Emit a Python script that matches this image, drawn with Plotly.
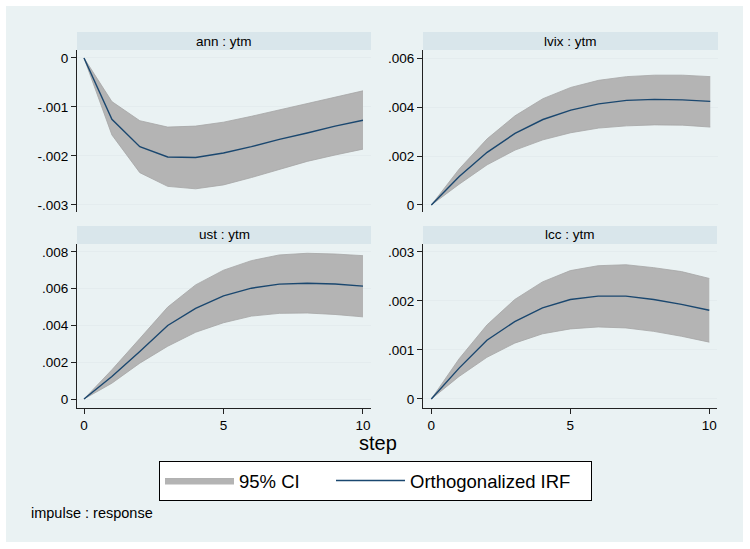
import plotly.graph_objects as go

# ---------------- data ----------------
steps = [0, 1, 2, 3, 4, 5, 6, 7, 8, 9, 10]

ann_irf = [0, -0.00125, -0.00181, -0.00202, -0.00203, -0.00194, -0.00181, -0.00166, -0.00153, -0.00139, -0.00127]
ann_lo = [0, -0.00157, -0.00234, -0.00262, -0.00267, -0.00259, -0.00244, -0.00227, -0.00211, -0.00198, -0.00186]
ann_hi = [0, -0.00089, -0.00128, -0.00141, -0.00139, -0.00131, -0.00119, -0.00106, -0.00093, -0.00080, -0.00067]

lvix_irf = [0, 0.00116, 0.00215, 0.00292, 0.00349, 0.00387, 0.00413, 0.00427, 0.00431, 0.00429, 0.00423]
lvix_lo = [0, 0.00085, 0.00164, 0.00224, 0.00266, 0.00295, 0.00314, 0.00323, 0.00327, 0.00326, 0.00318]
lvix_hi = [0, 0.00147, 0.00270, 0.00364, 0.00434, 0.00480, 0.00509, 0.00524, 0.00530, 0.00530, 0.00524]

ust_irf = [0, 0.00122, 0.00259, 0.00400, 0.00493, 0.00561, 0.00603, 0.00625, 0.00630, 0.00626, 0.00614]
ust_lo = [0, 0.00086, 0.00195, 0.00287, 0.00363, 0.00415, 0.00451, 0.00466, 0.00468, 0.00460, 0.00447]
ust_hi = [0, 0.00159, 0.00329, 0.00500, 0.00621, 0.00701, 0.00753, 0.00784, 0.00793, 0.00789, 0.00780]

lcc_irf = [0, 0.00063, 0.00120, 0.00158, 0.00186, 0.00203, 0.00210, 0.00210, 0.00203, 0.00193, 0.00181]
lcc_lo = [0, 0.00046, 0.00085, 0.00114, 0.00133, 0.00143, 0.00147, 0.00145, 0.00138, 0.00128, 0.00116]
lcc_hi = [0, 0.00082, 0.00151, 0.00203, 0.00239, 0.00262, 0.00272, 0.00274, 0.00268, 0.00260, 0.00246]

panel_titles = ["ann : ytm", "lvix : ytm", "ust : ytm", "lcc : ytm"]

ann_ticks = [0, -0.001, -0.002, -0.003]
ann_ticktext = ["0", "-.001", "-.002", "-.003"]
lvix_ticks = [0, 0.002, 0.004, 0.006]
lvix_ticktext = ["0", ".002", ".004", ".006"]
ust_ticks = [0, 0.002, 0.004, 0.006, 0.008]
ust_ticktext = ["0", ".002", ".004", ".006", ".008"]
lcc_ticks = [0, 0.001, 0.002, 0.003]
lcc_ticktext = ["0", ".001", ".002", ".003"]

x_ticks = [0, 5, 10]
x_ticktext = ["0", "5", "10"]

# ---------------- style ----------------
W, H = 750, 549
FONT = "Liberation Sans, Arial, Helvetica, sans-serif"
OUTER_BG = "#EAF2F3"
STRIP_BG = "#D9E6EB"
BAND_FILL = "#B4B4B4"
BAND_EDGE = "#A6A6A6"
IRF_COLOR = "#1A476F"
GRID = "#E4ECEE"
AXIS = "#222222"


def px_x(p):
    return p / W


def px_y(p):
    return 1 - p / H


# panel geometry in pixels: (x0, x1, y_top, y_bottom)
panels = [
    (77, 371, 50, 212),
    (423, 718, 50, 212),
    (77, 371, 244, 408),
    (423, 717, 244, 408),
]
strip_h = 18

series = [
    (ann_irf, ann_lo, ann_hi, ann_ticks, ann_ticktext, [-0.003143, 0.000163]),
    (lvix_irf, lvix_lo, lvix_hi, lvix_ticks, lvix_ticktext, [-0.000286, 0.006327]),
    (ust_irf, ust_lo, ust_hi, ust_ticks, ust_ticktext, [-0.00049, 0.008435]),
    (lcc_irf, lcc_lo, lcc_hi, lcc_ticks, lcc_ticktext, [-0.000184, 0.003163]),
]
x_ranges = [[-0.251, 10.287], [-0.2986, 10.277], [-0.251, 10.287], [-0.2986, 10.277]]

fig = go.Figure()

layout = dict(
    template="none",
    width=W,
    height=H,
    margin=dict(l=0, r=0, t=0, b=0, pad=0, autoexpand=False),
    paper_bgcolor="white",
    plot_bgcolor="white",
    font=dict(family=FONT, color="black", size=13.5),
    showlegend=True,
    hovermode="closest",
)

shapes = [
    dict(type="rect", xref="paper", yref="paper", x0=px_x(6), x1=px_x(743),
         y0=px_y(542), y1=px_y(6), fillcolor=OUTER_BG, line=dict(width=0), layer="below"),
]
annotations = []

for i, (irf, lo, hi, tv, tt, yr) in enumerate(series):
    n = i + 1
    xa = "x" if n == 1 else f"x{n}"
    ya = "y" if n == 1 else f"y{n}"
    first = (i == 0)

    fig.add_trace(go.Scatter(
        x=steps, y=hi, xaxis=xa, yaxis=ya, mode="lines",
        line=dict(color=BAND_EDGE, width=0.8), legendgroup="ci",
        showlegend=False, hoverinfo="skip"))
    fig.add_trace(go.Scatter(
        x=steps, y=lo, xaxis=xa, yaxis=ya, mode="lines", fill="tonexty",
        fillcolor=BAND_FILL, line=dict(color=BAND_EDGE, width=0.8),
        name="95% CI", legendgroup="ci", showlegend=first, legendwidth=87))
    fig.add_trace(go.Scatter(
        x=steps, y=irf, xaxis=xa, yaxis=ya, mode="lines",
        line=dict(color=IRF_COLOR, width=1.4),
        name="Orthogonalized IRF", legendgroup="irf", showlegend=first,
        legendwidth=176))

    x0, x1, yt, yb = panels[i]
    bottom = i >= 2
    xkey = "xaxis" if n == 1 else f"xaxis{n}"
    ykey = "yaxis" if n == 1 else f"yaxis{n}"
    layout[xkey] = dict(
        domain=[px_x(x0), px_x(x1)], anchor=ya, range=x_ranges[i],
        automargin=False,
        showgrid=False, zeroline=False,
        showline=bottom, linecolor=AXIS, linewidth=1,
        ticks="outside" if bottom else "", ticklen=5, tickcolor=AXIS, tickwidth=1,
        tickvals=x_ticks, ticktext=x_ticktext, showticklabels=bottom,
        tickfont=dict(size=13.5),
    )
    layout[ykey] = dict(
        domain=[px_y(yb), px_y(yt)], anchor=xa, range=yr,
        automargin=False,
        showgrid=True, gridcolor=GRID, gridwidth=1, zeroline=False,
        showline=True, linecolor=AXIS, linewidth=1,
        ticks="outside", ticklen=5, tickcolor=AXIS, tickwidth=1,
        tickvals=tv, ticktext=tt, tickfont=dict(size=13.5),
    )

    # strip header
    shapes.append(dict(type="rect", xref="paper", yref="paper",
                       x0=px_x(x0), x1=px_x(x1), y0=px_y(yt), y1=px_y(yt - strip_h),
                       fillcolor=STRIP_BG, line=dict(width=0), layer="below"))
    annotations.append(dict(text=panel_titles[i], xref="paper", yref="paper",
                            x=px_x((x0 + x1) / 2), y=px_y(yt - strip_h / 2),
                            xanchor="center", yanchor="middle", showarrow=False,
                            font=dict(size=13.5)))

annotations.append(dict(text="step", xref="paper", yref="paper",
                        x=px_x(378), y=px_y(443), xanchor="center", yanchor="middle",
                        showarrow=False, font=dict(size=20)))
annotations.append(dict(text="impulse : response", xref="paper", yref="paper",
                        x=px_x(29), y=px_y(513), xanchor="left", yanchor="middle",
                        showarrow=False, font=dict(size=14.5)))

layout["shapes"] = shapes
layout["annotations"] = annotations
layout["legend"] = dict(
    orientation="h", x=px_x(159), y=px_y(461), xanchor="left", yanchor="top",
    bgcolor="white", bordercolor="black", borderwidth=1,
    itemwidth=69, font=dict(size=18.5), traceorder="normal",
)

fig.update_layout(**layout)
fig.write_html(
    "out.html",
    config={"displayModeBar": False},
    post_script="document.body.style.margin='0';document.body.style.overflow='hidden';",
)
